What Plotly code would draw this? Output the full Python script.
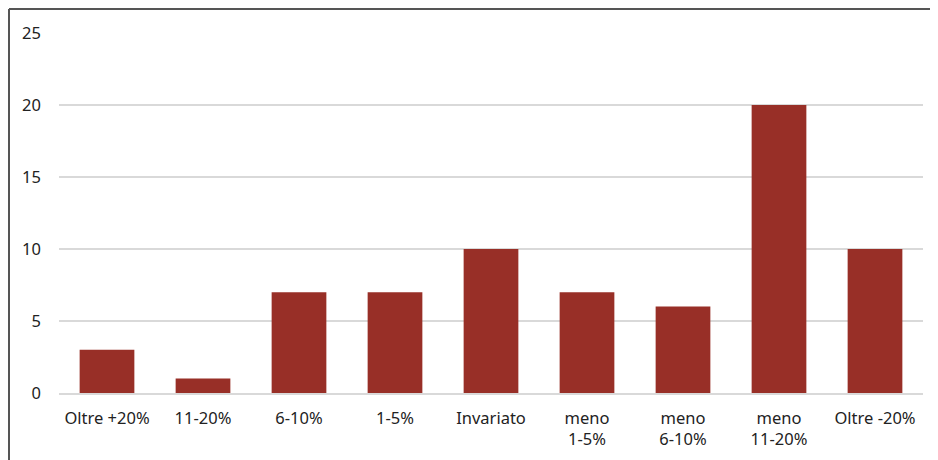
import plotly.graph_objects as go

categories = ["Oltre +20%", "11-20%", "6-10%", "1-5%", "Invariato",
              "meno<br>1-5%", "meno<br>6-10%", "meno<br>11-20%", "Oltre -20%"]
values = [3, 1, 7, 7, 10, 7, 6, 20, 10]
y_ticks = [0, 5, 10, 15, 20, 25]

# la pagina html sposta la figura di 8px (margine del body)
W, H = 938, 460
L, R, T, B = 51, 23, 25, 75
pw, ph = W - L - R, H - T - B

fig = go.Figure(go.Bar(
    x=categories,
    y=values,
    marker=dict(color="#982f27", line=dict(width=0)),
))

# cornice esterna (solo sinistra e sopra visibili)
bx = (1 - L) / pw
by = 1 + (T - 1) / ph
fig.add_shape(type="line", xref="paper", yref="paper",
              x0=bx, x1=(W - L) / pw, y0=by, y1=by,
              line=dict(color="#555555", width=2))
fig.add_shape(type="line", xref="paper", yref="paper",
              x0=bx, x1=bx, y0=by, y1=-B / ph,
              line=dict(color="#555555", width=2))

fig.update_layout(
    width=W, height=H,
    margin=dict(l=L, r=R, t=T, b=B),
    paper_bgcolor="white",
    plot_bgcolor="white",
    bargap=0.43,
    showlegend=False,
    font=dict(family="Noto Sans, Open Sans, sans-serif", size=16.5, color="#222222"),
)
fig.update_xaxes(
    automargin=False,
    showgrid=False,
    showline=True, linecolor="#d9d9d9", linewidth=2,
    ticks="", ticklabelstandoff=9,
    tickfont=dict(size=16.5),
)
fig.update_yaxes(
    automargin=False,
    range=[0, 25],
    tickvals=y_ticks,
    showgrid=True, gridcolor="#d9d9d9", gridwidth=1.5,
    zeroline=False,
    showline=False,
    ticks="", ticklabelstandoff=17,
    tickfont=dict(size=16.5),
)

fig.write_html("out.html")
